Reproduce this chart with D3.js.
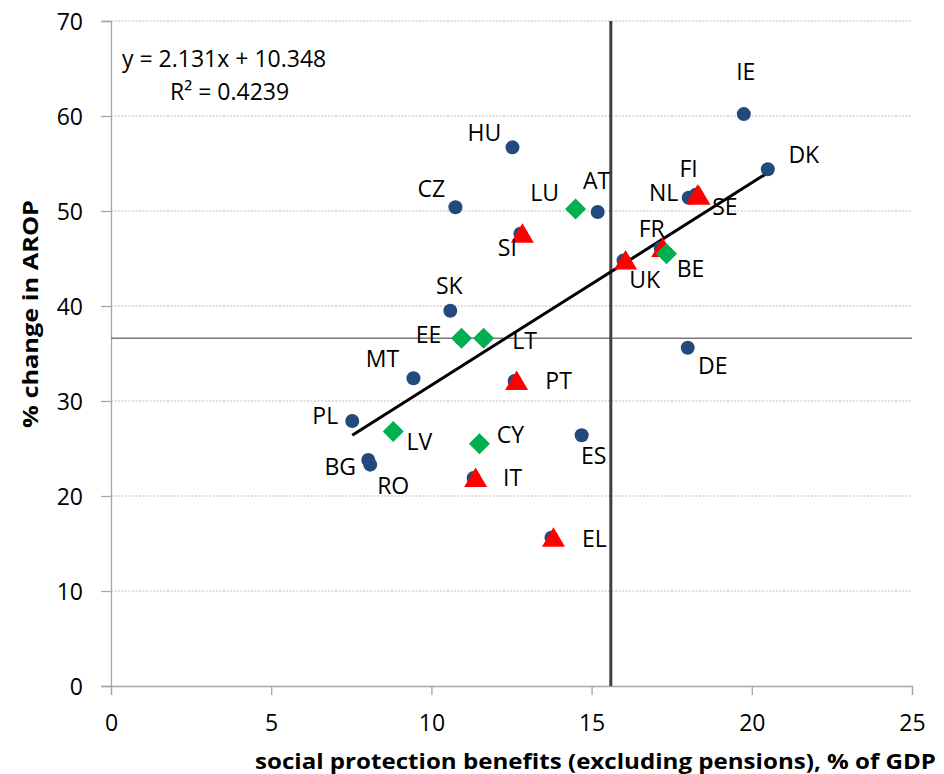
<!DOCTYPE html>
<html>
<head>
<meta charset="utf-8">
<script src="https://cdnjs.cloudflare.com/ajax/libs/d3/7.8.5/d3.min.js"></script>
<style>
  body { margin: 0; background: #fff; }
  text { font-family: "Open Sans", sans-serif; }
</style>
</head>
<body>
<div id="chart"></div>
<script>
const width = 944,
height = 774,
margin = { top: 21, right: 32, bottom: 88, left: 111 };

// data
const countries = ['IE', 'DK', 'HU', 'CZ', 'AT', 'LU', 'NL', 'FI', 'SE', 'SI', 'FR', 'BE', 'UK', 'DE',
  'ES', 'EL', 'IT', 'CY', 'PT', 'LT', 'EE', 'SK', 'MT', 'PL', 'LV', 'BG', 'RO'];
const benefits = [19.75, 20.5, 12.53, 10.75, 15.19, 14.5, 18.03, 18.31, 18.35, 12.84, 17.22, 17.34, 16.06, 18.0,
  14.69, 13.81, 11.38, 11.5, 12.66, 11.63, 10.94, 10.59, 9.44, 7.53, 8.81, 8.03, 8.09];
const aropChange = [60.2, 54.4, 56.7, 50.4, 49.9, 50.2, 51.4, 51.7, 51.6, 47.6, 46.1, 45.5, 44.8, 35.6,
  26.4, 15.6, 21.9, 25.5, 32.1, 36.6, 36.6, 39.5, 32.4, 27.9, 26.8, 23.8, 23.3];
const triangleGroup = ['SI', 'FI', 'SE', 'FR', 'UK', 'PT', 'IT', 'EL'];
const diamondGroup = ['LU', 'BE', 'EE', 'LT', 'LV', 'CY'];

const xTicks = [0, 5, 10, 15, 20, 25];
const yTicks = [0, 10, 20, 30, 40, 50, 60, 70];
const avgBenefits = 15.6;
const avgArop = 36.6;
const slope = 2.131, intercept = 10.348, rSquared = 0.4239;

// label placement (pixels from the marker centre)
const labelOffset = {
  IE: [2, -42], DK: [36, -14], HU: [-28, -15], CZ: [-24, -18], AT: [-1, -31], LU: [-31, -16],
  NL: [-25, -5], FI: [-9, -26], SE: [26, 11], SI: [-15, 14], FR: [-11, -19], BE: [24, 15],
  UK: [19, 19], DE: [25, 18], ES: [12, 21], EL: [41, 1], IT: [37, 0], CY: [31, -9],
  PT: [42, 0], LT: [41, 2], EE: [-33, -4], SK: [-1, -25], MT: [-31, -19], PL: [-27, -5],
  LV: [26, 10], BG: [-28, 7], RO: [23, 21] };

const points = countries.map((c, i) => ({ name: c, x: benefits[i], y: aropChange[i] }));

const svg = d3.select('#chart').
append('svg').
attr('width', width).
attr('height', height);

const x = d3.scaleLinear().domain([0, 25]).range([margin.left, width - margin.right]);
const y = d3.scaleLinear().domain([0, 70]).range([height - margin.bottom, margin.top]);

// gridlines
svg.append('g').
selectAll('line').
data(yTicks.filter(d => d > 0)).
enter().
append('line').
attr('x1', x(0)).
attr('x2', x(25)).
attr('y1', d => y(d)).
attr('y2', d => y(d)).
attr('stroke', '#bdbdbd').
attr('stroke-width', 1).
attr('stroke-dasharray', '2,1.5');

// axes
const yAxis = svg.append('g').
attr('transform', `translate(${x(0)},0)`).
call(d3.axisLeft(y).tickValues(yTicks).tickSize(10).tickPadding(18));
const xAxis = svg.append('g').
attr('transform', `translate(0,${y(0)})`).
call(d3.axisBottom(x).tickValues(xTicks).tickSize(9).tickPadding(20));

[xAxis, yAxis].forEach(a => {
  a.select('.domain').attr('stroke', '#a6a6a6').attr('stroke-width', 1.3);
  a.selectAll('.tick line').attr('stroke', '#a6a6a6').attr('stroke-width', 1.3);
  a.selectAll('.tick text').
  attr('fill', '#000').
  style('font-size', '23px').
  style('font-family', '"Open Sans", sans-serif');
});
yAxis.selectAll('.tick text').attr('dy', '0.36em');

// reference lines
svg.append('line').
attr('x1', x(0)).
attr('x2', x(25)).
attr('y1', y(avgArop)).
attr('y2', y(avgArop)).
attr('stroke', '#7a7a7a').
attr('stroke-width', 1.5);

svg.append('line').
attr('x1', x(avgBenefits)).
attr('x2', x(avgBenefits)).
attr('y1', y(0)).
attr('y2', y(70)).
attr('stroke', '#3f3f3f').
attr('stroke-width', 3);

// trend line
const xExtent = d3.extent(benefits);
svg.append('line').
attr('x1', x(xExtent[0])).
attr('y1', y(slope * xExtent[0] + intercept)).
attr('x2', x(xExtent[1])).
attr('y2', y(slope * xExtent[1] + intercept)).
attr('stroke', '#000').
attr('stroke-width', 3);

// base circles for every country
svg.append('g').
selectAll('circle').
data(points).
enter().
append('circle').
attr('cx', d => x(d.x) - (triangleGroup.includes(d.name) ? 2 : 0)).
attr('cy', d => y(d.y)).
attr('r', 7).
attr('fill', '#234a7d');

const triangle = 'M0,-10.5L11.5,9L-11.5,9Z';
const diamond = 'M0,-10.5L10.5,0L0,10.5L-10.5,0Z';

svg.append('g').
selectAll('path').
data(points.filter(d => triangleGroup.includes(d.name))).
enter().
append('path').
attr('d', triangle).
attr('transform', d => `translate(${x(d.x)},${y(d.y)})`).
attr('fill', '#ff0000');

svg.append('g').
selectAll('path').
data(points.filter(d => diamondGroup.includes(d.name))).
enter().
append('path').
attr('d', diamond).
attr('transform', d => `translate(${x(d.x)},${y(d.y)})`).
attr('fill', '#00b050');

// country labels
svg.append('g').
selectAll('text').
data(points).
enter().
append('text').
attr('x', d => x(d.x) + labelOffset[d.name][0]).
attr('y', d => y(d.y) + labelOffset[d.name][1]).
attr('text-anchor', 'middle').
attr('dy', '0.36em').
style('font-size', '23px').
text(d => d.name);

// regression equation
svg.append('text').
attr('x', 122).
attr('y', 67).
style('font-size', '23px').
text(`y = ${slope}x + ${intercept}`);
svg.append('text').
attr('x', 170).
attr('y', 100).
style('font-size', '23px').
text(`R² = ${rSquared}`);

// axis titles
svg.append('text').
attr('x', 936).
attr('y', 769).
attr('text-anchor', 'end').
attr('textLength', 681).
attr('lengthAdjust', 'spacingAndGlyphs').
style('font-size', '22px').
style('font-weight', 'bold').
text('social protection benefits (excluding pensions), % of GDP');

svg.append('text').
attr('transform', 'translate(38,314) rotate(-90)').
attr('text-anchor', 'middle').
attr('textLength', 228).
attr('lengthAdjust', 'spacingAndGlyphs').
style('font-size', '22px').
style('font-weight', 'bold').
text('% change in AROP');
</script>
</body>
</html>
